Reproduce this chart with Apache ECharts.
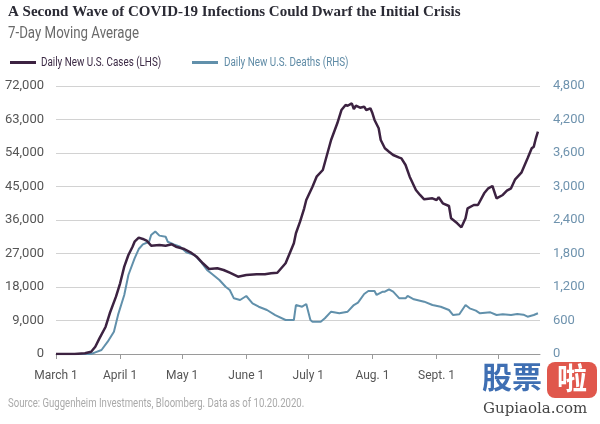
<!DOCTYPE html>
<html>
<head>
<meta charset="utf-8">
<script src="https://cdn.jsdelivr.net/npm/echarts@6/dist/echarts.min.js"></script>
<style>
html,body{margin:0;padding:0;background:#fff;}
#chart{width:600px;height:424px;}
</style>
</head>
<body>
<div id="chart"></div>
<script>
// ---- Data ----
const titleText = 'A Second Wave of COVID-19 Infections Could Dwarf the Initial Crisis';
const subtitleText = '7-Day Moving Average';
const sourceText = 'Source: Guggenheim Investments, Bloomberg. Data as of 10.20.2020.';
const casesName = 'Daily New U.S. Cases (LHS)';
const deathsName = 'Daily New U.S. Deaths (RHS)';

// x-axis month ticks and their labels
const monthTicks = ['03-01','04-01','05-01','06-01','07-01','08-01','09-01','10-01'];
const monthLabels = ['March 1','April 1','May 1','June 1','July 1','Aug. 1','Sept. 1',''];

// Daily New U.S. Cases, 7-day average (left axis)
const caseDates = ['03-01','03-10','03-15','03-18','03-20','03-22','03-25','03-27','03-30','04-01',
  '04-03','04-05','04-07','04-08','04-10','04-12','04-14','04-16','04-20','04-23',
  '04-26','04-28','05-02','05-05','05-08','05-11','05-14','05-18','05-21','05-24',
  '05-28','06-01','06-06','06-10','06-13','06-16','06-20','06-22','06-24','06-25',
  '06-27','06-29','06-30','07-03','07-05','07-08','07-10','07-12','07-15','07-17',
  '07-19','07-20','07-22','07-23','07-24','07-26','07-28','07-29','07-31','08-01',
  '08-02','08-04','08-05','08-07','08-09','08-11','08-14','08-15','08-17','08-19',
  '08-22','08-24','08-26','08-30','09-01','09-02','09-04','09-07','09-08','09-11',
  '09-13','09-15','09-16','09-19','09-21','09-24','09-26','09-28','09-30','10-03',
  '10-05','10-07','10-09','10-12','10-15','10-17','10-18','10-19','10-20'];
const caseValues = [0,0,200,620,1960,4200,7330,10940,15400,19000,
  23460,26600,28830,30180,31250,30900,30360,29100,29280,29100,
  29470,28830,28210,27320,26140,24370,22840,23020,22570,21840,
  20770,21220,21400,21400,21680,21840,24370,27050,29740,32430,
  35550,39140,41370,44950,47640,49430,53460,57500,61980,65550,
  66900,66700,67350,65820,66700,66170,66440,65550,66010,64660,
  62870,60640,57500,55260,54350,53460,52740,52550,50780,47640,
  44060,42720,41560,41830,41370,42100,40480,39760,36450,35110,
  34040,36450,39140,40030,40030,43170,44510,45130,41830,42720,
  43880,44510,46930,48710,52580,55260,55700,57950,59720];

// Daily New U.S. Deaths, 7-day average (right axis)
const deathDates = ['03-01','03-18','03-20','03-23','03-26','03-29','03-31','04-03','04-05','04-08',
  '04-10','04-12','04-15','04-16','04-18','04-20','04-23','04-24','04-27','04-30',
  '05-03','05-07','05-10','05-13','05-15','05-19','05-22','05-24','05-26','05-29',
  '06-01','06-04','06-07','06-11','06-15','06-20','06-24','06-25','06-28','06-30',
  '07-02','07-03','07-07','07-09','07-12','07-16','07-20','07-23','07-25','07-28',
  '07-30','08-02','08-03','08-06','08-07','08-09','08-11','08-14','08-17','08-18',
  '08-21','08-26','08-30','09-03','09-07','09-09','09-12','09-15','09-17','09-20',
  '09-22','09-27','09-30','10-03','10-07','10-10','10-13','10-15','10-18','10-20'];
const deathValues = [0,0,30,72,220,400,700,1057,1415,1714,
  1880,1964,2011,2131,2195,2120,2100,2011,1964,1922,
  1821,1773,1653,1504,1445,1325,1205,1146,997,967,
  1039,908,847,788,698,609,609,877,847,895,
  609,579,579,640,758,729,758,877,919,1075,
  1128,1128,1057,1116,1116,1159,1116,997,997,1039,
  980,937,877,847,788,698,711,877,818,776,
  729,746,698,711,698,716,704,668,698,729];

// ---- Build axis categories (one per day) ----
const START = Date.UTC(2020, 2, 1);
const NDAYS = 235; // Mar 1 .. Oct 21
function pad(n){ return (n < 10 ? '0' : '') + n; }
const categories = [];
for (let i = 0; i < NDAYS; i++) {
  const d = new Date(START + i * 86400000);
  categories.push(pad(d.getUTCMonth() + 1) + '-' + pad(d.getUTCDate()));
}
function dayIndex(md){ return categories.indexOf(md); }
function buildSeries(dates, values){
  const arr = new Array(NDAYS).fill(null);
  dates.forEach((md, i) => { arr[dayIndex(md)] = values[i]; });
  return arr;
}
const tickSet = {};
monthTicks.forEach((m, i) => { tickSet[m] = monthLabels[i]; });
const isTick = (idx) => Object.prototype.hasOwnProperty.call(tickSet, categories[idx]);

const SANS = "'Roboto', 'Liberation Sans', sans-serif";
const CASE_COLOR = '#3c2241';
const DEATH_COLOR = '#6190ab';

const chart = echarts.init(document.getElementById('chart'), null, {renderer: 'canvas'});
chart.setOption({
  animation: false,
  backgroundColor: '#ffffff',
  title: [
    {text: titleText, left: 8, top: 5, padding: 0,
     textStyle: {fontFamily: "'Liberation Serif', 'DejaVu Serif', serif", fontWeight: 'bold', fontSize: 15, color: '#2b2b35'}}
  ],
  grid: {left: 56, right: 60, top: 86, bottom: 70, containLabel: false},
  xAxis: {
    type: 'category', data: categories, boundaryGap: false,
    axisLine: {show: true, lineStyle: {color: '#9a9a9a', width: 1}},
    axisTick: {show: true, length: 5, interval: isTick, lineStyle: {color: '#9a9a9a'}},
    axisLabel: {interval: isTick, margin: 16, fontFamily: SANS, fontSize: 12, color: '#555555',
      formatter: (v) => tickSet[v] || ''},
    splitLine: {show: false}
  },
  yAxis: [
    {type: 'value', min: 0, max: 72000, interval: 9000, position: 'left',
     axisLine: {show: false}, axisTick: {show: false},
     axisLabel: {margin: 12, fontFamily: SANS, fontSize: 13, color: '#555555',
       formatter: (v) => v.toLocaleString('en-US')},
     splitLine: {show: true, lineStyle: {color: '#d2d2d2', width: 1}}},
    {type: 'value', min: 0, max: 4800, interval: 600, position: 'right',
     axisLine: {show: false}, axisTick: {show: false},
     axisLabel: {margin: 13, fontFamily: SANS, fontSize: 13, color: '#6f93ae',
       formatter: (v) => v.toLocaleString('en-US')},
     splitLine: {show: false}}
  ],
  series: [
    {name: deathsName, type: 'line', yAxisIndex: 1, data: buildSeries(deathDates, deathValues),
     connectNulls: true, showSymbol: false, symbol: 'none', z: 2,
     lineStyle: {color: DEATH_COLOR, width: 2}, itemStyle: {color: DEATH_COLOR}},
    {name: casesName, type: 'line', yAxisIndex: 0, data: buildSeries(caseDates, caseValues),
     connectNulls: true, showSymbol: false, symbol: 'none', z: 3,
     lineStyle: {color: CASE_COLOR, width: 2.5}, itemStyle: {color: CASE_COLOR}}
  ],
  graphic: [
    // subtitle (condensed look)
    {type: 'text', x: 8, y: 26, scaleX: 0.83,
     style: {text: subtitleText, fill: '#6a6a6a', font: '16px ' + SANS}},
    // legend
    {type: 'rect', shape: {x: 10, y: 61, width: 26, height: 3}, style: {fill: CASE_COLOR}},
    {type: 'text', x: 41, y: 57, scaleX: 0.82,
     style: {text: casesName, fill: '#3c2a45', font: '12px ' + SANS}},
    {type: 'rect', shape: {x: 192, y: 61, width: 26, height: 3}, style: {fill: DEATH_COLOR}},
    {type: 'text', x: 224, y: 57, scaleX: 0.82,
     style: {text: deathsName, fill: '#5f8ba6', font: '12px ' + SANS}},
    // source
    {type: 'text', x: 8, y: 398, scaleX: 0.8,
     style: {text: sourceText, fill: '#aaaaaa', font: '12px ' + SANS}},
    // watermark
    {type: 'text', x: 482, y: 362,
     style: {text: '股票', fill: '#3f6fb3', font: 'bold 30px "Noto Sans CJK SC"'}},
    {type: 'rect', shape: {x: 547, y: 362, width: 50, height: 36, r: 8},
     style: {fill: '#e0574c'}},
    {type: 'text', x: 557, y: 363,
     style: {text: '啦', fill: '#ffffff', font: 'bold 30px "Noto Sans CJK SC"'}},
    {type: 'text', x: 483, y: 402,
     style: {text: 'Gupiaola.com', fill: '#444444', font: '15px "DejaVu Serif"'}}
  ]
});
</script>
</body>
</html>
